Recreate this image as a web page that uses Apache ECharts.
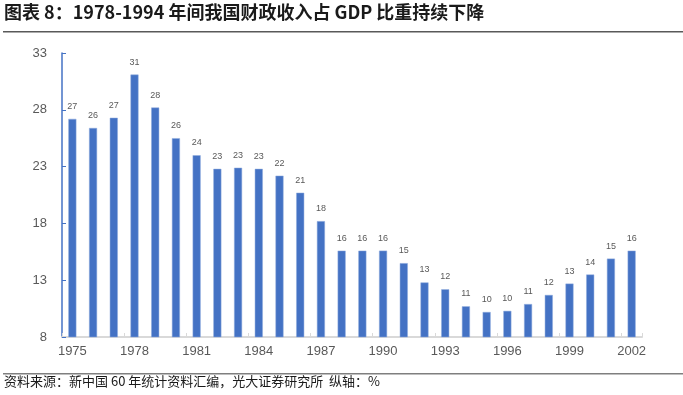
<!DOCTYPE html>
<html><head><meta charset="utf-8">
<script src="https://cdn.jsdelivr.net/npm/echarts@6/dist/echarts.min.js"></script>
<style>html,body{margin:0;padding:0;background:#fff}#c{width:683px;height:395px}</style>
</head><body><div id="c"></div>
<script>
const years = ['1975','1976','1977','1978','1979','1980','1981','1982','1983','1984','1985','1986','1987','1988','1989','1990','1991','1992','1993','1994','1995','1996','1997','1998','1999','2000','2001','2002'];
const revenueShare = [27.2,26.4,27.3,31.1,28.2,25.5,24.0,22.8,22.9,22.8,22.2,20.7,18.2,15.6,15.6,15.6,14.5,12.8,12.2,10.7,10.2,10.3,10.9,11.7,12.7,13.5,14.9,15.6];
const yTicks = [8,13,18,23,28,33];
const titleText = '图表 8：1978-1994 年间我国财政收入占 GDP 比重持续下降';
const sourceText = '资料来源：新中国 60 年统计资料汇编，光大证券研究所  纵轴：%';

const chart = echarts.init(document.getElementById('c'));
chart.setOption({
  animation: false,
  textStyle: {fontFamily: '"Noto Sans CJK SC", "Noto Sans", sans-serif'},
  grid: {left: 62, right: 41, top: 53, bottom: 58},
  graphic: [
    {type: 'text', left: 4, top: 3, style: {text: titleText, font: 'bold 18px "Noto Sans CJK SC"', fill: '#1a1a1a'}},
    {type: 'rect', shape: {x: 3, y: 31, width: 680, height: 1.5}, style: {fill: '#595959'}},
    {type: 'rect', shape: {x: 3, y: 373, width: 680, height: 1.5}, style: {fill: '#7f7f7f'}},
    {type: 'text', left: 4, top: 375, style: {text: sourceText, font: '13px "Noto Sans CJK SC"', fill: '#1a1a1a'}}
  ],
  xAxis: {
    type: 'category', data: years,
    axisLine: {lineStyle: {color: '#D9D9D9', width: 2}},
    axisTick: {show: true, inside: true, length: 4, interval: 2, lineStyle: {color: '#D9D9D9'}},
    axisLabel: {interval: 2, color: '#595959', fontSize: 13, fontFamily: 'Liberation Sans, Arial, sans-serif', margin: 8}
  },
  yAxis: {
    type: 'value', min: yTicks[0], max: yTicks[yTicks.length-1], interval: 5,
    axisLine: {show: true, lineStyle: {color: '#4472C4', width: 1.5}},
    axisTick: {show: true, inside: true, length: 4, lineStyle: {color: '#4472C4'}},
    splitLine: {show: false},
    axisLabel: {color: '#595959', fontSize: 13, fontFamily: 'Liberation Sans, Arial, sans-serif', margin: 15}
  },
  series: [{
    type: 'bar', data: revenueShare, barWidth: 8,
    itemStyle: {color: '#4472C4', borderColor: '#8FAADC', borderWidth: 0.5},
    label: {show: true, position: 'top', distance: 8, color: '#595959', fontSize: 9,
      fontFamily: 'Liberation Sans, Arial, sans-serif',
      formatter: p => Math.round(p.value)}
  }]
});
</script></body></html>
